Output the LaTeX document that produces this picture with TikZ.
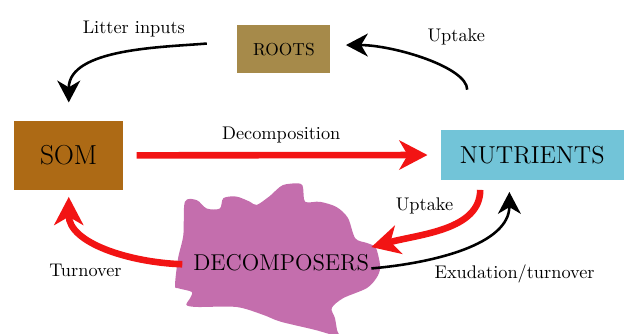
\documentclass[tikz,border=0pt]{standalone}
\usepackage{tikz}
\usetikzlibrary{arrows.meta}

\definecolor{rootcol}{RGB}{166,138,74}
\definecolor{somcol}{RGB}{173,106,21}
\definecolor{nutcol}{RGB}{114,196,216}
\definecolor{blobcol}{RGB}{196,110,173}
\definecolor{flowred}{RGB}{242,20,20}

\begin{document}
\begin{tikzpicture}[
		box/.style={rectangle, inner sep=0pt},
		flow/.style={draw=flowred, line width=3.6pt, -{Stealth[length=0.54cm, width=0.56cm, inset=0.16cm]}},
		link/.style={draw=black, line width=1.4pt, -{Stealth[length=0.42cm, width=0.44cm, inset=0.13cm]}}
	]
		\useasboundingbox (0,0) rectangle (12,6.394);

		% ノードを描画
		\node[box, fill=rootcol, minimum width=1.79cm, minimum height=0.92cm, font=\fontsize{9.5}{11}\selectfont] (R) at (5.45, 5.45) {ROOTS};
		\node[box, fill=somcol, minimum width=2.09cm, minimum height=1.32cm, font=\fontsize{15}{18}\selectfont] (S) at (1.32, 3.41) {SOM};
		\node[box, fill=nutcol, minimum width=3.51cm, minimum height=0.95cm, font=\fontsize{13.4}{16}\selectfont] (N) at (10.22, 3.42) {NUTRIENTS};

		% 分解者の形
		\fill[blobcol] plot[smooth cycle, tension=0.5] coordinates {
			(3.55,2.52) (3.78,2.55) (3.97,2.39) (4.22,2.39) (4.29,2.59) (4.54,2.62)
			(4.80,2.52) (4.93,2.46) (5.18,2.63) (5.43,2.84) (5.76,2.87) (5.82,2.78)
			(5.86,2.52) (6.14,2.52) (6.46,2.42) (6.68,2.21) (6.82,1.82) (7.04,1.73)
			(7.20,1.66) (7.26,1.50) (7.30,1.25) (7.23,1.06) (7.04,0.86) (6.59,0.67)
			(6.37,0.48) (6.43,0.29) (6.47,0.06) (6.49,-0.06) (6.05,0.06) (5.38,0.22)
			(5.05,0.35) (4.54,0.50) (3.78,0.50) (3.58,0.54) (3.65,0.67) (3.68,0.79)
			(3.42,0.86) (3.36,0.92) (3.42,1.44) (3.52,1.88)};
		\node[inner sep=1pt, font=\fontsize{12.5}{15}\selectfont] (D) at (5.40, 1.36) {DECOMPOSERS};

		% 矢印を描画
		\draw[link, shorten <=0.58cm, shorten >=0.35cm] (R.170) to[out=185, in=90] (S.north);
		\draw[link, shorten <=0.77cm, shorten >=0.29cm] ([xshift=-1.25cm]N.north) to[out=90, in=0] (R.5);
		\draw[flow, shorten <=0.25cm, shorten >=0.25cm] (S) -- (N);
		\draw[flow, shorten <=0.19cm] ([xshift=-1.0cm]N.south) to[out=-90, in=15] ([yshift=0.29cm]D.east);
		\draw[link, shorten >=0.23cm] ([yshift=-0.12cm]D.east) to[out=5, in=-90] ([xshift=-0.44cm]N.south);
		\draw[flow, shorten >=0.13cm] ([xshift=-0.17cm, yshift=-0.04cm]D.west) to[out=178, in=-90] (S.south);

		% ラベルを追加
		\node (Llit) at (2.57, 5.84) {Litter inputs};
		\node (Lup1) at (8.76, 5.69) {Uptake};
		\node (Ldec) at (5.40, 3.80) {Decomposition};
		\node (Lup2) at (8.15, 2.44) {Uptake};
		\node (Lexu) at (9.88, 1.13) {Exudation/turnover};
		\node (Ltur) at (1.64, 1.21) {Turnover};
	\end{tikzpicture}
\end{document}
